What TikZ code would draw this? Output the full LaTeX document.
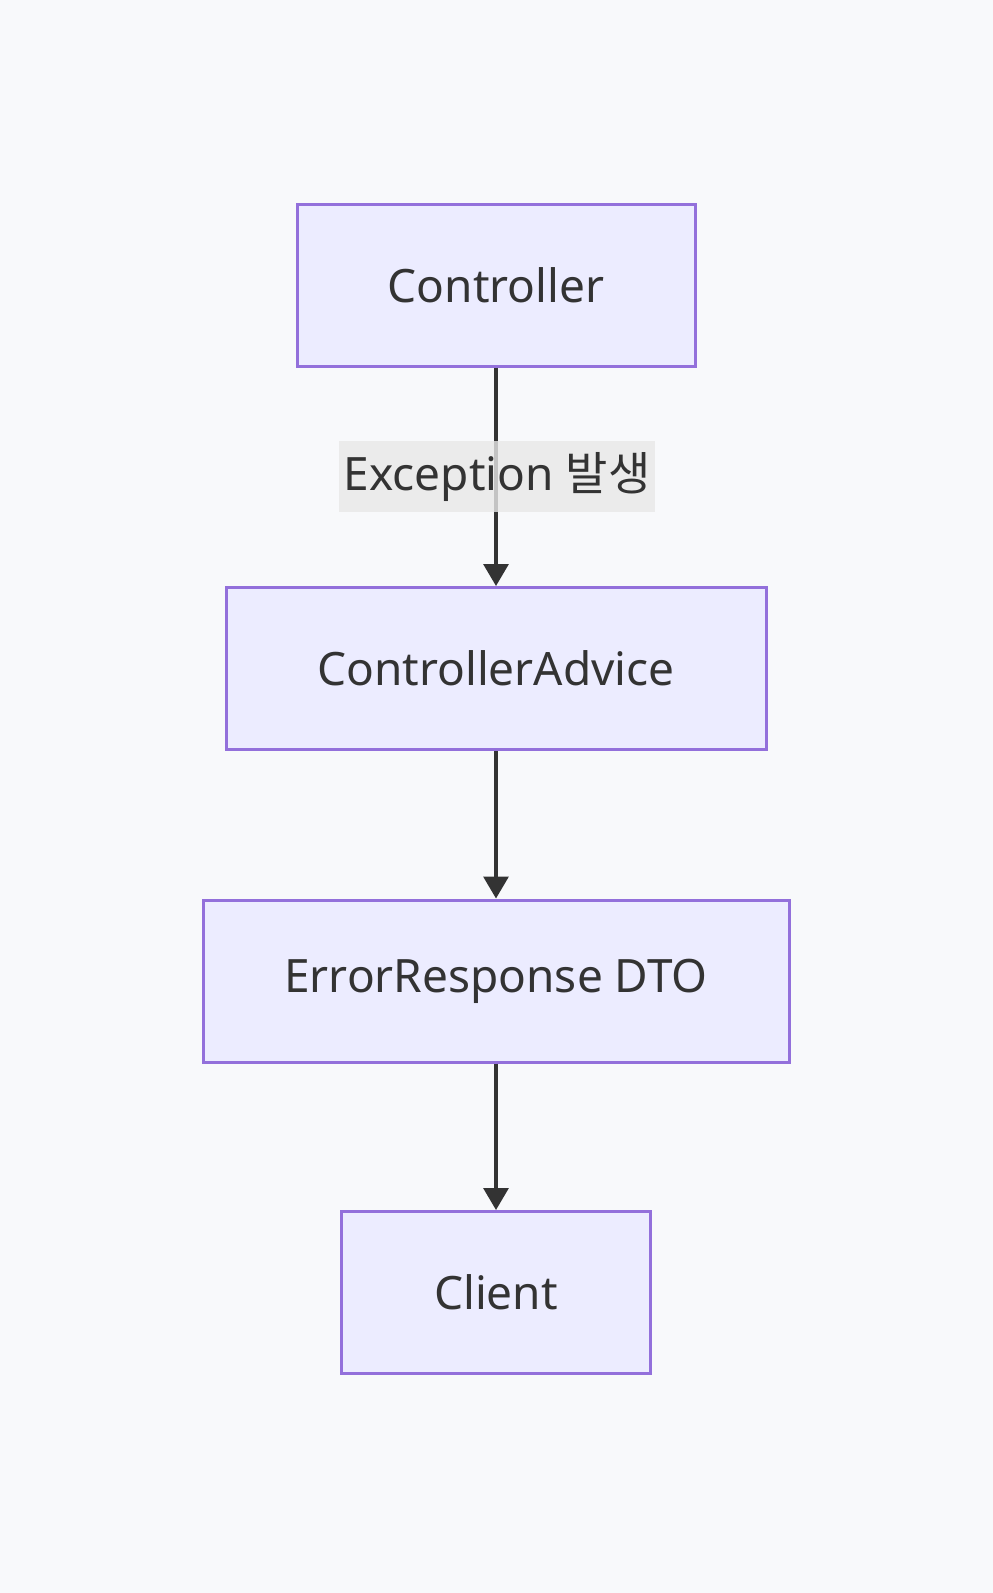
\documentclass[tikz,border=0pt]{standalone}
\usepackage{fontspec}
\setmainfont{Noto Sans}
\newfontfamily\kr{Noto Sans CJK KR}
\usetikzlibrary{arrows.meta}
\definecolor{bgc}{HTML}{F8F9FB}
\definecolor{boxfill}{HTML}{ECECFF}
\definecolor{boxline}{HTML}{9370DB}
\definecolor{ink}{HTML}{333333}
\definecolor{lblbg}{HTML}{E8E8E8}
\tikzset{
  box/.style={draw=boxline, fill=boxfill, line width=3pt, rectangle, inner sep=0pt,
    text=ink, font=\fontsize{46}{55}\selectfont, minimum height=162pt},
  flow/.style={draw=ink, line width=3.2pt, -{Triangle[length=22pt,width=25pt]}},
  lbl/.style={fill=lblbg, fill opacity=0.8, text opacity=1, text=ink, inner sep=0pt,
    minimum width=316pt, minimum height=71pt, font=\fontsize{46}{55}\selectfont}
}
\begin{document}
\begin{tikzpicture}[x=1pt,y=-1pt]
\fill[bgc] (0,0) rectangle (993,1593);
\useasboundingbox (0,0) rectangle (993,1593);
\node[box, minimum width=398pt] (ctrl) at (496,285) {Controller};
\node[box, minimum width=540pt] (adv) at (496,668.5) {ControllerAdvice};
\node[box, minimum width=586pt] (dto) at (496,981) {ErrorResponse DTO};
\node[box, minimum width=309pt] (cli) at (496,1292.5) {Client};
\draw[flow] (ctrl.south) -- (adv.north);
\draw[flow] (adv.south) -- (dto.north);
\draw[flow] (dto.south) -- (cli.north);
\node[lbl] (exc) at (497,476.5) {Exception {\kr 발생}};
\end{tikzpicture}
\end{document}
